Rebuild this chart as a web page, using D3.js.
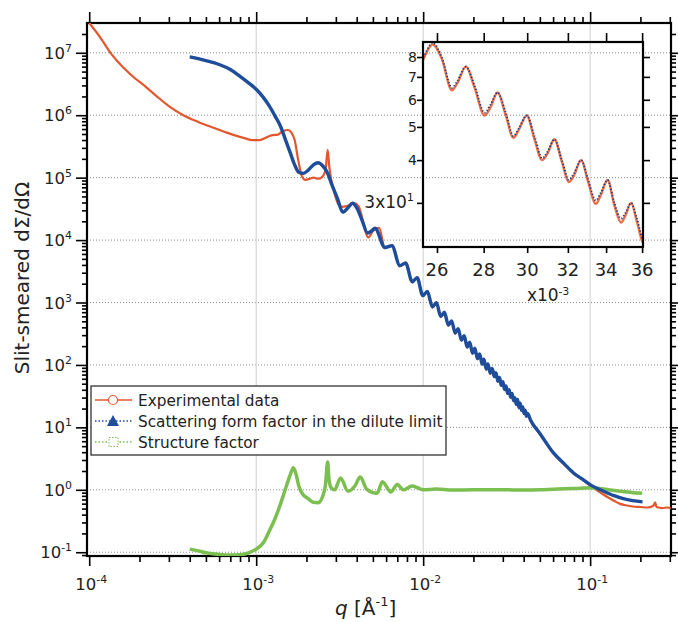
<!DOCTYPE html>
<html>
<head>
<meta charset="utf-8">
<script src="https://cdn.jsdelivr.net/npm/d3@7"></script>
<style>
  body { margin: 0; background: #fff; }
  svg { display: block; font-family: "DejaVu Sans", sans-serif; }
</style>
</head>
<body>
<svg id="chart" width="678" height="622"></svg>
<script>
// ---- data: [q (1/Å), slit-smeared intensity] ----
const experimental = [
  [1.0e-4, 3.0e7], [1.15e-4, 1.85e7], [1.34e-4, 1.0e7], [1.6e-4, 5.8e6], [1.84e-4, 4.1e6],
  [2.2e-4, 2.8e6], [2.56e-4, 1.97e6], [3.0e-4, 1.4e6], [3.66e-4, 1.0e6], [4.5e-4, 7.8e5],
  [5.55e-4, 6.3e5], [6.5e-4, 5.4e5], [7.3e-4, 4.85e5], [8.5e-4, 4.3e5], [9.5e-4, 4.0e5],
  [1.05e-3, 4.0e5], [1.15e-3, 4.4e5], [1.25e-3, 4.8e5], [1.35e-3, 4.9e5], [1.45e-3, 5.6e5],
  [1.55e-3, 5.8e5], [1.63e-3, 5.2e5], [1.7e-3, 4.0e5], [1.78e-3, 2.0e5], [1.88e-3, 1.05e5],
  [1.97e-3, 9.2e4], [2.1e-3, 9.6e4], [2.2e-3, 1.0e5], [2.35e-3, 9.6e4], [2.48e-3, 1.02e5],
  [2.6e-3, 1.3e5], [2.68e-3, 2.8e5], [2.74e-3, 1.5e5], [2.94e-3, 5.7e4], [3.2e-3, 3.4e4],
  [3.5e-3, 3.5e4], [3.85e-3, 3.9e4], [4.1e-3, 3.5e4], [4.7e-3, 1.1e4], [5.0e-3, 1.4e4],
  [5.45e-3, 1.57e4], [5.9e-3, 7.4e3], [6.55e-3, 8.3e3], [7.25e-3, 3.8e3], [7.9e-3, 4.4e3],
  [8.6e-3, 2.1e3], [9.25e-3, 2.55e3], [9.95e-3, 1.26e3], [10.6e-3, 1.52e3], [11.35e-3, 830],
  [12.0e-3, 1000], [12.75e-3, 585], [13.4e-3, 705], [14.15e-3, 425], [14.8e-3, 512],
  [15.55e-3, 318], [16.2e-3, 382], [16.95e-3, 245], [17.6e-3, 295], [18.35e-3, 190],
  [19.0e-3, 232], [19.75e-3, 152], [20.4e-3, 186], [21.15e-3, 123], [21.8e-3, 151],
  [22.55e-3, 101], [23.1e-3, 125], [23.85e-3, 84], [24.45e-3, 105], [25.2e-3, 72],
  [25.45e-3, 79], [25.82e-3, 87], [26.2e-3, 79], [26.62e-3, 64], [26.85e-3, 67],
  [27.22e-3, 75], [27.6e-3, 65], [28.04e-3, 54], [28.3e-3, 57], [28.62e-3, 63],
  [29.0e-3, 54], [29.35e-3, 46.5], [29.6e-3, 49], [29.98e-3, 54], [30.35e-3, 46],
  [30.72e-3, 40], [31.0e-3, 42], [31.32e-3, 46], [31.7e-3, 39.5], [32.05e-3, 34.5],
  [32.3e-3, 36], [32.68e-3, 40], [33.05e-3, 34.5], [33.45e-3, 29.8], [33.7e-3, 31.5],
  [34.08e-3, 35], [34.45e-3, 29.5], [34.82e-3, 26.3], [35.05e-3, 27.5], [35.38e-3, 30],
  [35.7e-3, 26.5], [36.1e-3, 22.8], [36.75e-3, 27.5], [37.45e-3, 20.4], [38.1e-3, 24.2],
  [38.8e-3, 18.3], [39.5e-3, 21.2], [40.2e-3, 16.4], [40.85e-3, 18.7], [41.55e-3, 14.8],
  [42.2e-3, 16.6], [44e-3, 12.8], [50e-3, 7.9], [60.3e-3, 3.85], [70e-3, 2.55],
  [79.5e-3, 1.84], [90e-3, 1.45], [0.101, 1.15], [0.11, 0.98], [0.12, 0.84], [0.13, 0.74],
  [0.14, 0.66], [0.15, 0.6], [0.16, 0.57], [0.18, 0.54], [0.2, 0.53], [0.22, 0.52],
  [0.24, 0.56], [0.245, 0.63], [0.25, 0.53], [0.27, 0.51], [0.29, 0.52], [0.305, 0.5]
];

const formFactor = [
  [4.0e-4, 8.6e6], [5.0e-4, 7.5e6], [6.0e-4, 6.5e6], [7.0e-4, 5.4e6], [8.0e-4, 4.2e6],
  [9.0e-4, 3.3e6], [1.0e-3, 2.6e6], [1.1e-3, 1.95e6], [1.2e-3, 1.4e6], [1.3e-3, 9.6e5],
  [1.4e-3, 6.6e5], [1.5e-3, 4.0e5], [1.6e-3, 2.5e5], [1.7e-3, 1.6e5], [1.8e-3, 1.22e5],
  [1.92e-3, 1.17e5], [2.05e-3, 1.32e5], [2.2e-3, 1.6e5], [2.35e-3, 1.73e5], [2.5e-3, 1.55e5],
  [2.67e-3, 1.2e5], [2.85e-3, 7.5e4], [3.07e-3, 4.6e4], [3.3e-3, 2.8e4], [3.55e-3, 3.3e4],
  [3.78e-3, 3.9e4], [4.0e-3, 3.3e4], [4.3e-3, 2.1e4], [4.65e-3, 1.3e4], [4.9e-3, 1.4e4],
  [5.15e-3, 1.55e4], [5.9e-3, 7.6e3], [6.5e-3, 8.1e3], [7.25e-3, 3.9e3], [7.85e-3, 4.27e3],
  [8.6e-3, 2.15e3], [9.2e-3, 2.5e3], [9.95e-3, 1.29e3], [10.6e-3, 1.5e3], [11.35e-3, 850],
  [12.0e-3, 990], [12.75e-3, 600], [13.4e-3, 697], [14.15e-3, 435], [14.8e-3, 508],
  [15.55e-3, 325], [16.2e-3, 379], [16.95e-3, 250], [17.6e-3, 293], [18.35e-3, 194],
  [19.0e-3, 231], [19.75e-3, 155], [20.4e-3, 185], [21.15e-3, 126], [21.8e-3, 150],
  [22.55e-3, 103], [23.1e-3, 124], [23.85e-3, 86], [24.45e-3, 104], [25.2e-3, 74],
  [25.45e-3, 80], [25.82e-3, 88], [26.2e-3, 80], [26.62e-3, 65], [26.85e-3, 68],
  [27.22e-3, 75], [27.6e-3, 66], [28.04e-3, 55], [28.3e-3, 58], [28.62e-3, 63],
  [29.0e-3, 55], [29.35e-3, 47], [29.6e-3, 49.5], [29.98e-3, 54], [30.35e-3, 47],
  [30.72e-3, 40.5], [31.0e-3, 42.5], [31.32e-3, 46], [31.7e-3, 40], [32.05e-3, 35],
  [32.3e-3, 36.5], [32.68e-3, 40], [33.05e-3, 35], [33.45e-3, 30.5], [33.7e-3, 32],
  [34.08e-3, 35], [34.45e-3, 30], [34.82e-3, 27], [35.05e-3, 28], [35.38e-3, 30],
  [35.7e-3, 27], [36.1e-3, 23.4], [36.75e-3, 27.9], [37.45e-3, 20.8], [38.1e-3, 24.4],
  [38.8e-3, 18.7], [39.5e-3, 21.3], [40.2e-3, 16.7], [40.85e-3, 18.8], [41.55e-3, 15.0],
  [42.2e-3, 16.7], [44e-3, 13], [50e-3, 8.0], [60.3e-3, 3.9], [70e-3, 2.6],
  [79.5e-3, 1.86], [90e-3, 1.48], [0.101, 1.19], [0.115, 1.0], [0.127, 0.89],
  [0.142, 0.79], [0.158, 0.72], [0.18, 0.67], [0.206, 0.64]
];

const structureFactor = [
  [4.0e-4, 0.112], [4.5e-4, 0.105], [5.0e-4, 0.098], [6.0e-4, 0.092], [7.0e-4, 0.09],
  [8.0e-4, 0.091], [9.0e-4, 0.098], [1.0e-3, 0.112], [1.1e-3, 0.14], [1.2e-3, 0.22],
  [1.3e-3, 0.35], [1.4e-3, 0.6], [1.5e-3, 1.05], [1.6e-3, 1.75], [1.67e-3, 2.25],
  [1.73e-3, 1.8], [1.8e-3, 1.15], [1.9e-3, 0.85], [2.05e-3, 0.72], [2.2e-3, 0.63],
  [2.35e-3, 0.62], [2.5e-3, 0.78], [2.6e-3, 1.2], [2.68e-3, 2.8], [2.72e-3, 1.6],
  [2.8e-3, 1.1], [2.95e-3, 1.0], [3.2e-3, 1.55], [3.55e-3, 0.95], [3.9e-3, 1.15],
  [4.2e-3, 1.6], [4.6e-3, 1.02], [5.3e-3, 0.88], [5.7e-3, 1.35], [6.4e-3, 0.92],
  [7.0e-3, 1.22], [7.6e-3, 1.0], [8.6e-3, 1.15], [1.0e-2, 1.0], [1.2e-2, 1.03],
  [1.5e-2, 0.99], [2e-2, 1.0], [3e-2, 1.0], [4e-2, 0.99], [5e-2, 1.0], [6e-2, 1.02],
  [8e-2, 1.05], [0.1, 1.08], [0.12, 1.03], [0.15, 0.95], [0.18, 0.9], [0.205, 0.88]
];

// tick values
const xTickExps = [-4, -3, -2, -1];
const yTickExps = [-1, 0, 1, 2, 3, 4, 5, 6, 7];
const insetXTicks = [26, 28, 30, 32, 34, 36];     // x10^-3
const insetYTicks = [30, 40, 50, 60, 70, 80];
const legendLabels = ['Experimental data', 'Scattering form factor in the dilute limit', 'Structure factor'];

const RED = '#e4572e', BLUE = '#1e4d9b', GREEN = '#7abf50';

const svg = d3.select('#chart');

// main plot frame
const M = { left: 87, right: 671, top: 23, bottom: 556 };
const x = d3.scaleLog().domain([9.7e-5, 0.305]).range([M.left, M.right]);
const y = d3.scaleLog().domain([0.087, 3.0e7]).range([M.bottom, M.top]);

svg.append('defs').append('clipPath').attr('id', 'clipMain')
  .append('rect').attr('x', M.left).attr('y', M.top)
  .attr('width', M.right - M.left).attr('height', M.bottom - M.top);

// grid
const grid = svg.append('g');
grid.selectAll('.hg').data(yTickExps).enter().append('line')
  .attr('x1', M.left).attr('x2', M.right)
  .attr('y1', d => y(10 ** d)).attr('y2', d => y(10 ** d))
  .attr('stroke', '#8a8a8a').attr('stroke-width', 1).attr('stroke-dasharray', '1,2');
grid.selectAll('.vg').data(xTickExps.slice(1)).enter().append('line')
  .attr('y1', M.top).attr('y2', M.bottom)
  .attr('x1', d => x(10 ** d)).attr('x2', d => x(10 ** d))
  .attr('stroke', '#cfcfcf').attr('stroke-width', 1);

// minor tick positions (2..9 in each decade)
function minors(scale, lo, hi) {
  const out = [];
  const [d0, d1] = scale.domain();
  for (let e = lo; e <= hi; e++) {
    for (let k = 2; k <= 9; k++) {
      const v = k * 10 ** e;
      if (v > d0 && v < d1) out.push(v);
    }
  }
  return out;
}
const majorX = xTickExps.map(e => 10 ** e);
const majorY = yTickExps.map(e => 10 ** e);
const minorX = minors(x, -5, -1);
const minorY = minors(y, -2, 7);

function drawAxis(axis, tx, ty) {
  const g = svg.append('g').attr('transform', `translate(${tx},${ty})`).call(axis);
  g.select('.domain').remove();
  g.selectAll('line').attr('stroke', '#000').attr('stroke-width', 1.6);
  return g;
}
drawAxis(d3.axisBottom(x).tickValues(majorX).tickSize(10).tickFormat(''), 0, M.bottom);
drawAxis(d3.axisBottom(x).tickValues(minorX).tickSize(6).tickFormat(''), 0, M.bottom);
drawAxis(d3.axisTop(x).tickValues(majorX).tickSize(11).tickFormat(''), 0, M.top);
drawAxis(d3.axisTop(x).tickValues(minorX).tickSize(6).tickFormat(''), 0, M.top);
drawAxis(d3.axisLeft(y).tickValues(majorY).tickSize(11).tickFormat(''), M.left, 0);
drawAxis(d3.axisLeft(y).tickValues(minorY).tickSize(5).tickFormat(''), M.left, 0);
drawAxis(d3.axisRight(y).tickValues(majorY).tickSize(8).tickFormat(''), M.right, 0);
drawAxis(d3.axisRight(y).tickValues(minorY).tickSize(5).tickFormat(''), M.right, 0);

svg.append('rect')
  .attr('x', M.left).attr('y', M.top)
  .attr('width', M.right - M.left).attr('height', M.bottom - M.top)
  .attr('fill', 'none').attr('stroke', '#000').attr('stroke-width', 2.2);

// tick labels with superscript exponents
function powLabel(sel, base, exp, size) {
  sel.append('tspan').text(base);
  sel.append('tspan').attr('dy', -size * 0.42).attr('font-size', size * 0.66).text(exp);
}
svg.selectAll('.xl').data(xTickExps).enter().append('text')
  .attr('x', d => x(10 ** d) + 2).attr('y', 590)
  .attr('text-anchor', 'middle').attr('font-size', 16.5).attr('fill', '#222')
  .each(function (d) { powLabel(d3.select(this), '10', d, 16.5); });
svg.selectAll('.yl').data(yTickExps).enter().append('text')
  .attr('x', 72).attr('y', d => y(10 ** d) + 6)
  .attr('text-anchor', 'end').attr('font-size', 16.5).attr('fill', '#222')
  .each(function (d) { powLabel(d3.select(this), '10', d, 16.5); });

// axis titles
svg.append('text')
  .attr('transform', 'translate(29,278) rotate(-90)')
  .attr('text-anchor', 'middle').attr('font-size', 20).attr('fill', '#222')
  .text('Slit-smeared dΣ/dΩ');
const xt = svg.append('text').attr('x', 335).attr('y', 615)
  .attr('font-size', 20).attr('fill', '#222');
xt.append('tspan').attr('font-style', 'italic').text('q');
xt.append('tspan').text(' [Å');
xt.append('tspan').attr('dy', -9).attr('font-size', 13).text('-1');
xt.append('tspan').attr('dy', 9).text(']');

// curves
const line = d3.line().x(d => x(d[0])).y(d => y(d[1])).curve(d3.curveMonotoneX);
const curves = svg.append('g').attr('clip-path', 'url(#clipMain)');
curves.append('path').datum(experimental).attr('d', line)
  .attr('fill', 'none').attr('stroke', RED).attr('stroke-width', 2.2);
curves.append('path').datum(structureFactor).attr('d', line)
  .attr('fill', 'none').attr('stroke', GREEN).attr('stroke-width', 3.5);
curves.append('path').datum(formFactor).attr('d', line)
  .attr('fill', 'none').attr('stroke', BLUE).attr('stroke-width', 3.4);

// legend
const lg = svg.append('g');
lg.append('rect').attr('x', 91).attr('y', 386).attr('width', 355).attr('height', 69)
  .attr('fill', '#fff').attr('stroke', '#222').attr('stroke-width', 1.2);
const rows = lg.selectAll('.row').data(legendLabels).enter().append('g')
  .attr('transform', (d, i) => `translate(0,${400 + i * 21})`);
rows.append('line').attr('x1', 95).attr('x2', 132)
  .attr('stroke', (d, i) => [RED, BLUE, GREEN][i])
  .attr('stroke-width', (d, i) => i === 0 ? 1.5 : 1.3)
  .attr('stroke-dasharray', (d, i) => i === 0 ? null : '1.5,2');
rows.filter((d, i) => i === 0).append('circle').attr('cx', 113).attr('cy', 0).attr('r', 4.5)
  .attr('fill', '#fff').attr('stroke', RED).attr('stroke-width', 1.2);
rows.filter((d, i) => i === 1).append('path').attr('d', 'M113,-6L119,5L107,5Z').attr('fill', BLUE);
rows.filter((d, i) => i === 2).append('rect').attr('x', 109).attr('y', -4.5).attr('width', 9).attr('height', 9)
  .attr('fill', '#fff').attr('stroke', GREEN).attr('stroke-width', 1).attr('stroke-dasharray', '1.5,1.5');
rows.append('text').attr('x', 138).attr('y', 5.5).attr('font-size', 15.3).attr('fill', '#222')
  .text(d => d);

// ---- inset ----
const I = { left: 423, right: 643, top: 42, bottom: 247 };
const ix = d3.scaleLog().domain([25.43e-3, 36.05e-3]).range([I.left, I.right]);
const iy = d3.scaleLog().domain([22.3, 88.5]).range([I.bottom, I.top]);
svg.select('defs').append('clipPath').attr('id', 'clipInset')
  .append('rect').attr('x', I.left).attr('y', I.top)
  .attr('width', I.right - I.left).attr('height', I.bottom - I.top);

const iline = d3.line().x(d => ix(d[0])).y(d => iy(d[1])).curve(d3.curveMonotoneX);
const inRange = d => d[0] > 24.5e-3 && d[0] < 37e-3;
const ic = svg.append('g').attr('clip-path', 'url(#clipInset)');
ic.append('path').datum(experimental.filter(inRange)).attr('d', iline)
  .attr('fill', 'none').attr('stroke', RED).attr('stroke-width', 2.4).attr('stroke-opacity', 0.85);
ic.append('path').datum(formFactor.filter(inRange)).attr('d', iline)
  .attr('fill', 'none').attr('stroke', '#1b3680').attr('stroke-width', 1.8)
  .attr('stroke-dasharray', '1.2,2');

const ixTicks = insetXTicks.map(v => v * 1e-3);
function drawInsetAxis(axis, tx, ty) {
  const g = svg.append('g').attr('transform', `translate(${tx},${ty})`).call(axis);
  g.select('.domain').remove();
  g.selectAll('line').attr('stroke', '#000').attr('stroke-width', 1.6);
}
drawInsetAxis(d3.axisTop(ix).tickValues(ixTicks).tickSize(9).tickFormat(''), 0, I.top);
drawInsetAxis(d3.axisBottom(ix).tickValues(ixTicks).tickSize(6).tickFormat(''), 0, I.bottom);
drawInsetAxis(d3.axisLeft(iy).tickValues(insetYTicks).tickSize(6).tickFormat(''), I.left, 0);
drawInsetAxis(d3.axisRight(iy).tickValues(insetYTicks).tickSize(7).tickFormat(''), I.right, 0);
svg.append('rect').attr('x', I.left).attr('y', I.top)
  .attr('width', I.right - I.left).attr('height', I.bottom - I.top)
  .attr('fill', 'none').attr('stroke', '#000').attr('stroke-width', 2.2);

svg.selectAll('.ixl').data(insetXTicks).enter().append('text')
  .attr('x', d => ix(d * 1e-3)).attr('y', 276)
  .attr('text-anchor', 'middle').attr('font-size', 18).attr('fill', '#222')
  .text(d => d);
const ixt = svg.append('text').attr('x', 548).attr('y', 301)
  .attr('text-anchor', 'middle').attr('font-size', 17).attr('fill', '#222');
ixt.append('tspan').text('x10');
ixt.append('tspan').attr('dy', -6).attr('font-size', 10.5).text('-3');

svg.selectAll('.iyl').data(insetYTicks).enter().append('text')
  .attr('x', d => d === 30 ? 414 : 417).attr('y', d => iy(d) + 5)
  .attr('text-anchor', 'end').attr('font-size', d => d === 30 ? 17 : 14).attr('fill', '#222')
  .each(function (d) {
    if (d === 30) powLabel(d3.select(this), '3x10', '1', 17);
    else d3.select(this).text(d / 10);
  });
</script>
</body>
</html>
